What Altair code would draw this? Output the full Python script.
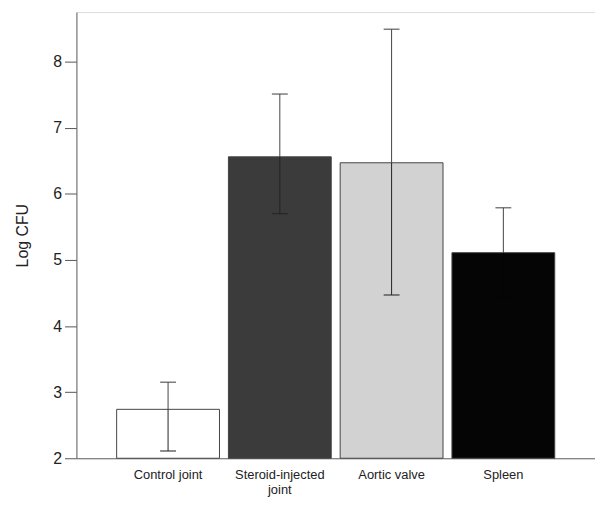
import altair as alt
import pandas as pd

categories = ["Control joint", "Steroid-injected joint", "Aortic valve", "Spleen"]
means = [2.74, 6.56, 6.47, 5.11]
lower = [2.11, 5.70, 4.47, 4.43]
upper = [3.15, 7.51, 8.49, 5.79]
fills = ["#ffffff", "#3b3b3b", "#d2d2d2", "#050505"]

df = pd.DataFrame({"cat": categories, "mean": means, "lo": lower, "hi": upper})

x = alt.X("cat:N", sort=categories,
          scale=alt.Scale(paddingInner=0.08, paddingOuter=0.36),
          axis=alt.Axis(title=None, ticks=False, labelAngle=0, labelFontSize=13,
                        labelFont="Liberation Sans", labelColor="#222", labelPadding=10,
                        domainColor="#666",
                        labelExpr="datum.value == 'Steroid-injected joint' ? ['Steroid-injected', 'joint'] : datum.value",
                        labelLineHeight=16))
yscale = alt.Scale(domain=[2, 8.75], nice=False, zero=False)

bars = alt.Chart(df).mark_bar(stroke="#444", strokeWidth=1).encode(
    x=x,
    y=alt.Y("mean:Q", scale=yscale,
            axis=alt.Axis(title="Log CFU", values=[2, 3, 4, 5, 6, 7, 8], format="d", tickSize=12,
                          tickColor="#555", domainColor="#666", labelFontSize=16,
                          labelFont="Liberation Sans", labelColor="#222", labelPadding=3,
                          titleFont="Liberation Sans", titleFontSize=16, titleFontWeight="normal",
                          titleColor="#222", titlePadding=22, grid=False)),
    y2=alt.datum(2),
    color=alt.Color("cat:N", scale=alt.Scale(domain=categories, range=fills), legend=None),
)

inner_color = alt.condition("datum.cat == 'Spleen'", alt.value("#050505"), alt.value("#222"))

rules_lo = alt.Chart(df).mark_rule(strokeWidth=1).encode(
    x=alt.X("cat:N", sort=categories), y="lo:Q", y2="mean:Q", color=inner_color)
rules_hi = alt.Chart(df).mark_rule(color="#444", strokeWidth=1).encode(
    x=alt.X("cat:N", sort=categories), y="mean:Q", y2="hi:Q")
cap_lo = alt.Chart(df).mark_tick(thickness=1.5, size=16).encode(
    x=alt.X("cat:N", sort=categories), y="lo:Q", color=inner_color)
cap_hi = alt.Chart(df).mark_tick(color="#444", thickness=1.5, size=16).encode(
    x=alt.X("cat:N", sort=categories), y="hi:Q")

chart = alt.layer(bars, rules_lo, rules_hi, cap_lo, cap_hi).properties(
    width=523, height=450,
    autosize=alt.AutoSizeParams(type="none"),
    padding={"left": 69, "top": 2, "right": 0, "bottom": 40},
).configure_view(stroke="#666", strokeWidth=1).configure(background="white")

chart.save("out.html", embed_options={"renderer": "svg", "actions": False})
